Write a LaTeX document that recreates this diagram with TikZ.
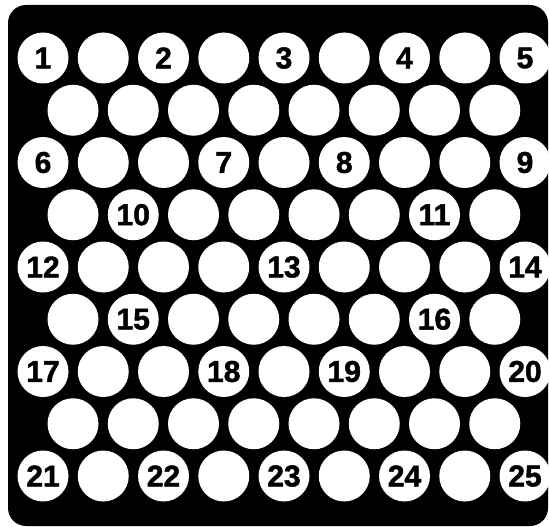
\documentclass[tikz,border=0pt]{standalone}
\usepackage{fontspec}
\setmainfont{Liberation Sans}[BoldFeatures={FakeBold=1.6}]
\begin{document}
\begin{tikzpicture}[x=1pt,y=-1pt,
  hole/.style={circle,fill=white,minimum size=51pt,inner sep=0pt,
    font=\bfseries\fontsize{30}{30}\selectfont}]
\useasboundingbox (0,0) rectangle (549,527);
\fill[black,rounded corners=18pt] (8,5) rectangle (548,526);
% odd rows: 9 holes, even rows: 8 holes
\foreach \t [count=\i] in {1,{},2,{},3,{},4,{},5}
  \node[hole] (h1-\i) at ({43+(\i-1)*60.25},58) {\t};
\foreach \i in {1,...,8}
  \node[hole] (h2-\i) at ({73+(\i-1)*60.25},110.25) {};
\foreach \t [count=\i] in {6,{},{},7,{},8,{},{},9}
  \node[hole] (h3-\i) at ({43+(\i-1)*60.25},162.5) {\t};
\foreach \t [count=\i] in {{},10,{},{},{},{},11,{}}
  \node[hole] (h4-\i) at ({73+(\i-1)*60.25},214.75) {\t};
\foreach \t [count=\i] in {12,{},{},{},13,{},{},{},14}
  \node[hole] (h5-\i) at ({43+(\i-1)*60.25},267) {\t};
\foreach \t [count=\i] in {{},15,{},{},{},{},16,{}}
  \node[hole] (h6-\i) at ({73+(\i-1)*60.25},319.25) {\t};
\foreach \t [count=\i] in {17,{},{},18,{},19,{},{},20}
  \node[hole] (h7-\i) at ({43+(\i-1)*60.25},371.5) {\t};
\foreach \i in {1,...,8}
  \node[hole] (h8-\i) at ({73+(\i-1)*60.25},423.75) {};
\foreach \t [count=\i] in {21,{},22,{},23,{},24,{},25}
  \node[hole] (h9-\i) at ({43+(\i-1)*60.25},476) {\t};
\end{tikzpicture}
\end{document}
